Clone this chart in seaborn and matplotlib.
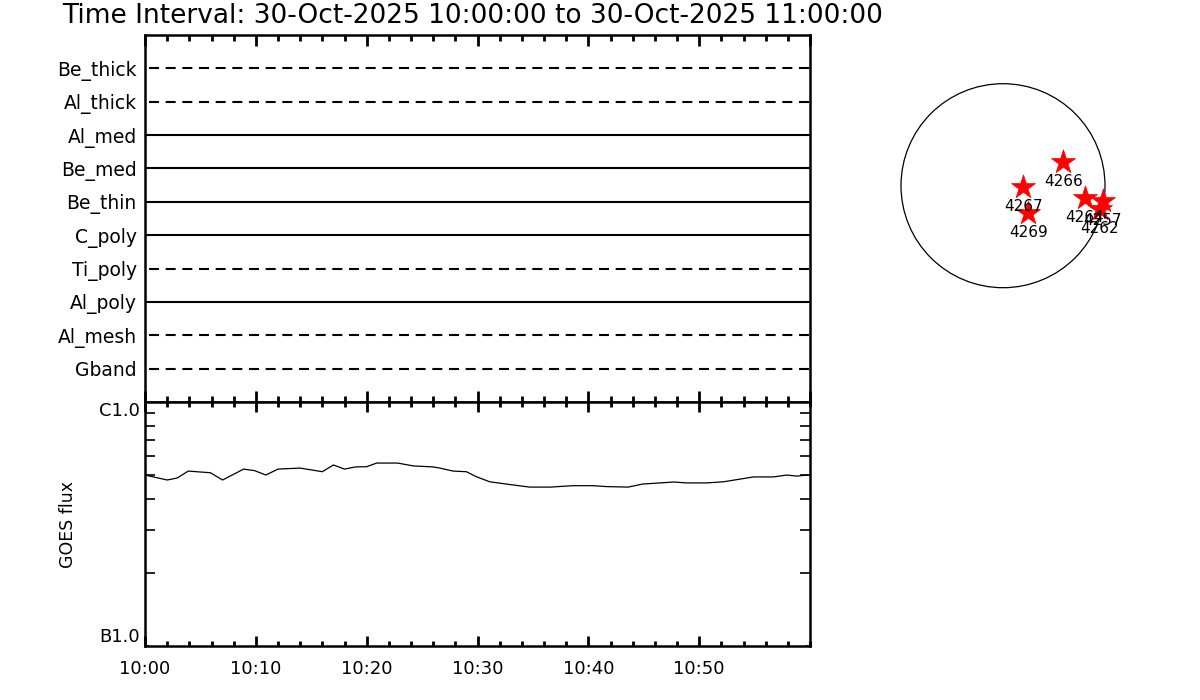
"""
Recreates the XRT filter-coverage / GOES flux quick-look plot for
30-Oct-2025 10:00 - 11:00 UT.
"""

import numpy as np
import matplotlib
matplotlib.use("Agg")
import matplotlib.pyplot as plt
import seaborn as sns
from matplotlib.patches import Circle
from matplotlib.ticker import FixedLocator, FixedFormatter, MultipleLocator, LogLocator, NullFormatter

# ============================================================================
# 0. DATA
# ============================================================================
TITLE = "Time Interval: 30-Oct-2025 10:00:00 to 30-Oct-2025 11:00:00"

filters = ["Be_thick", "Al_thick", "Al_med", "Be_med", "Be_thin",
           "C_poly", "Ti_poly", "Al_poly", "Al_mesh", "Gband"]
filter_dashed = [True, True, False, False, False, False, True, False, True, True]

# minutes after 10:00 UT
goes_time = [0.0, 2.0, 2.9, 3.9, 5.9, 7.0, 8.9, 9.9, 10.9, 12.0, 14.0, 16.0,
             17.0, 18.0, 19.0, 20.0, 20.9, 22.8, 24.2, 26.0, 26.6, 27.8, 29.0,
             29.9, 31.1, 32.6, 34.7, 36.6, 38.6, 40.4, 41.7, 43.6, 44.9, 47.7,
             48.9, 50.7, 52.2, 54.9, 56.7, 57.9, 58.8, 59.8]
goes_flux = [5.02e-7, 4.79e-7, 4.88e-7, 5.21e-7, 5.13e-7, 4.79e-7, 5.31e-7,
             5.23e-7, 5.02e-7, 5.31e-7, 5.36e-7, 5.18e-7, 5.52e-7, 5.31e-7,
             5.42e-7, 5.43e-7, 5.62e-7, 5.62e-7, 5.47e-7, 5.42e-7, 5.36e-7,
             5.21e-7, 5.18e-7, 4.94e-7, 4.71e-7, 4.61e-7, 4.48e-7, 4.48e-7,
             4.54e-7, 4.54e-7, 4.50e-7, 4.48e-7, 4.61e-7, 4.70e-7, 4.66e-7,
             4.66e-7, 4.71e-7, 4.93e-7, 4.93e-7, 5.02e-7, 4.97e-7, 5.02e-7]

time_ticks = [0, 10, 20, 30, 40, 50]
time_labels = ["10:00", "10:10", "10:20", "10:30", "10:40", "10:50"]
flux_ticks = [1e-7, 1e-6]
flux_labels = ["B1.0", "C1.0"]

# active regions, heliocentric position in units of solar radius
ar_numbers = ["4266", "4267", "4269", "4264", "4257", "4262"]
ar_x = [0.591, 0.199, 0.248, 0.804, 0.980, 0.951]
ar_y = [0.235, -0.016, -0.271, -0.124, -0.150, -0.228]

# ============================================================================
# 1. STYLE
# ============================================================================
sns.set_style("white")
plt.rcParams["font.family"] = ["DejaVu Sans"]
plt.rcParams.update({
    "axes.linewidth": 1.8,
    "axes.edgecolor": "black",
    "text.color": "black",
    "axes.labelcolor": "black",
    "xtick.color": "black",
    "ytick.color": "black",
})

fig = plt.figure(figsize=(12, 7), dpi=100)
fig.patch.set_facecolor("white")

W, H = 1200.0, 700.0
X0, X1 = 145, 810
ax_top = fig.add_axes([X0 / W, 1 - 402 / H, (X1 - X0) / W, (402 - 35) / H])
ax_bot = fig.add_axes([X0 / W, 1 - 646 / H, (X1 - X0) / W, (646 - 402) / H])

fig.text(62 / W, 1 - 16 / H, TITLE, ha="left", va="center", fontsize=19)

# ============================================================================
# 2. FILTER COVERAGE PANEL
# ============================================================================
for i, (name, dashed) in enumerate(zip(filters, filter_dashed)):
    ls = (0, (4.8, 3.2)) if dashed else "-"
    x0 = 0.4 if dashed else 0
    ax_top.hlines(i + 1, x0, 60, colors="black", linewidth=1.5, linestyles=ls)

ax_top.set_xlim(0, 60)
ax_top.set_ylim(len(filters) + 1, 0)
ax_top.set_yticks(range(1, len(filters) + 1))
ax_top.set_yticklabels(filters, fontsize=13.5)
ax_top.tick_params(axis="y", length=0, pad=6)
ax_top.xaxis.set_major_locator(MultipleLocator(10))
ax_top.xaxis.set_minor_locator(MultipleLocator(2))
ax_top.tick_params(axis="x", which="both", top=True, bottom=True, direction="in",
                   labelbottom=False, width=2)
ax_top.tick_params(axis="x", which="major", length=8)
ax_top.tick_params(axis="x", which="minor", length=4)

# ============================================================================
# 3. GOES FLUX PANEL
# ============================================================================
sns.lineplot(x=goes_time, y=goes_flux, ax=ax_bot, color="black", linewidth=0.9)
ax_bot.set_yscale("log")
ax_bot.set_xlim(0, 60)
ax_bot.set_ylim(1e-7, 1e-6)
ax_bot.yaxis.set_major_locator(FixedLocator(flux_ticks))
ax_bot.yaxis.set_major_formatter(FixedFormatter(flux_labels))
ax_bot.yaxis.set_minor_locator(LogLocator(base=10, subs=range(2, 10)))
ax_bot.yaxis.set_minor_formatter(NullFormatter())
ax_bot.tick_params(axis="y", which="both", left=True, right=True, direction="in",
                   width=1.2, labelsize=13)
ax_bot.tick_params(axis="y", which="major", length=3)
ax_bot.tick_params(axis="y", which="minor", length=7)

ax_bot.xaxis.set_major_locator(FixedLocator(time_ticks))
ax_bot.xaxis.set_major_formatter(FixedFormatter(time_labels))
ax_bot.xaxis.set_minor_locator(MultipleLocator(2))
ax_bot.tick_params(axis="x", which="both", top=True, bottom=True, direction="in",
                   width=2, labelsize=13, pad=10)
ax_bot.tick_params(axis="x", which="major", length=7)
ax_bot.tick_params(axis="x", which="minor", length=3.5)
ax_bot.set_xlabel("")
ax_bot.set_ylabel("GOES flux", fontsize=12.5)
ax_bot.yaxis.set_label_coords((77 - X0) / (X1 - X0), 0.5)

# B1.0 sits just above the lower edge, C1.0 just below the upper edge
for lbl, va in zip(ax_bot.get_yticklabels(), ["bottom", "top"]):
    lbl.set_verticalalignment(va)

# ============================================================================
# 4. SOLAR DISK WITH ACTIVE REGIONS
# ============================================================================
cx, cy, r_px = 1003, 185.7, 102.0
half = 120
ax_sun = fig.add_axes([(cx - half) / W, 1 - (cy + half) / H, 2 * half / W, 2 * half / H])
lim = half / r_px
ax_sun.set_xlim(-lim, lim)
ax_sun.set_ylim(-lim, lim)
ax_sun.set_aspect("equal")
ax_sun.axis("off")
ax_sun.add_patch(Circle((0, 0), 1.0, fill=False, edgecolor="black", linewidth=0.9))

sns.scatterplot(x=ar_x, y=ar_y, ax=ax_sun, marker="*", s=330, color="red",
                edgecolor="red", linewidth=0.5, legend=False, zorder=3)
for num, xx, yy in zip(ar_numbers, ar_x, ar_y):
    ax_sun.annotate(num, (xx, yy), xytext=(0, -14), textcoords="offset points",
                    ha="center", va="center", fontsize=11, zorder=4)

fig.savefig("out.png", dpi=100, facecolor="white")
